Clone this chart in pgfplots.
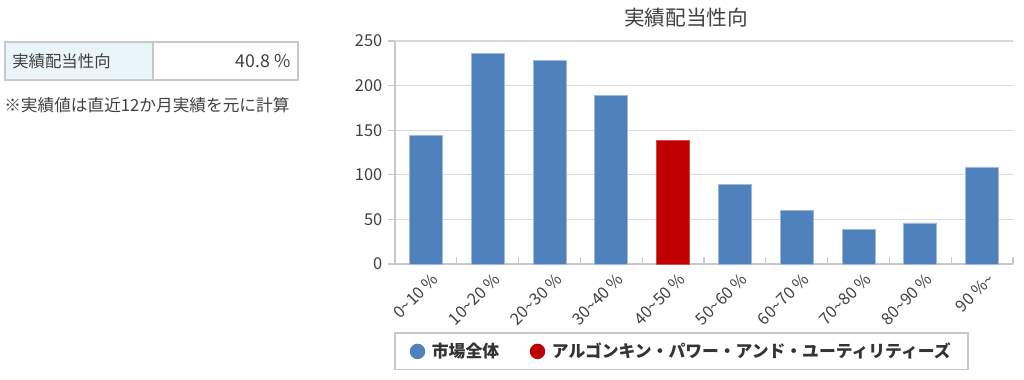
\documentclass[border=0pt]{standalone}
\usepackage{fontspec}
\setmainfont{Noto Sans CJK JP}
\usepackage{pgfplots}
\pgfplotsset{compat=1.18}
\definecolor{barblue}{HTML}{4F81BD}
\definecolor{barred}{HTML}{C00000}
\definecolor{gridgray}{HTML}{D9D9D9}
\definecolor{axisgray}{HTML}{C8C8C8}
\definecolor{txt}{HTML}{404040}
\definecolor{cellblue}{HTML}{EAF5F9}
\definecolor{boxgray}{HTML}{C8C8C8}
\begin{document}
\begin{tikzpicture}
\begin{scope}[x=0.75pt,y=-0.75pt]
\useasboundingbox (0,0) rectangle (1024,379);
\fill[cellblue] (5,42) rectangle (153,80);
\draw[boxgray, line width=0.9pt] (5,42) rectangle (298,80);
\draw[boxgray, line width=0.9pt] (153,42) -- (153,80);
\node[anchor=west, inner sep=0pt, text=txt, font=\fontsize{12.3}{14}\selectfont] at (12,61) {実績配当性向};
\node[anchor=east, inner sep=0pt, text=txt, font=\fontsize{13.3}{15}\selectfont] at (291,61) {40.8 \%};
\node[anchor=west, inner sep=0pt, text=txt, font=\fontsize{12.5}{14}\selectfont] at (4,105) {※実績値は直近12か月実績を元に計算};
\node[inner sep=0pt, text=txt, font=\fontsize{15.5}{17}\selectfont] at (686,18) {実績配当性向};
\end{scope}
\begin{axis}[
  at={(296.25pt,-198pt)}, anchor=south west,
  scale only axis, width=463.5pt, height=167.25pt,
  xmin=-0.5, xmax=9.5, ymin=0, ymax=250,
  axis x line=bottom, axis y line=left,
  axis line style={-, draw=axisgray, line width=1pt},
  ytick={0,50,...,250},
  ymajorgrids, grid style={gridgray, line width=1pt},
  xtick={0,...,9},
  xticklabels={0\textasciitilde10 \%,10\textasciitilde20 \%,20\textasciitilde30 \%,30\textasciitilde40 \%,40\textasciitilde50 \%,50\textasciitilde60 \%,60\textasciitilde70 \%,70\textasciitilde80 \%,80\textasciitilde90 \%,90 \%\textasciitilde},
  xtick style={draw=none},
  ytick style={draw=axisgray, line width=1pt},
  tick align=outside, major tick length=5pt,
  extra x ticks={0.5,1.5,...,9.5}, extra x tick labels={},
  extra x tick style={xtick style={draw=axisgray, line width=1pt}, tick align=inside},
  /pgf/number format/assume math mode=true,
  tick label style={text=txt, font=\fontsize{12.3}{14}\selectfont},
  y tick label style={xshift=-1pt},
  x tick label style={rotate=45, anchor=north east, inner sep=1pt, yshift=-2pt, xshift=3pt},
  legend columns=2,
  legend style={at={(0.4636,-0.392)}, anchor=center, draw=boxgray, line width=1pt,
    font=\fontsize{12.6}{14}\selectfont\bfseries, text=black!80,
    inner xsep=11pt, inner ysep=5.5pt,
    /tikz/every odd column/.append style={column sep=3pt},
    /tikz/every even column/.append style={column sep=21pt}},
  legend image code/.code={\fill[#1, draw=none] (0pt,0pt) circle (5.8pt);},
]
\addplot[ybar, bar shift=0pt, bar width=24.75pt, fill=barblue, draw=barblue!55!white, line width=0.6pt]
  coordinates {(0,144) (1,236) (2,228) (3,189) (5,89) (6,60) (7,39) (8,46) (9,108)};
\addlegendentry{市場全体}
\addplot[ybar, bar shift=0pt, bar width=24.75pt, fill=barred, draw=barred!70!white, line width=0.6pt]
  coordinates {(4,139)};
\addlegendentry{アルゴンキン・パワー・アンド・ユーティリティーズ}
\end{axis}
\end{tikzpicture}
\end{document}
